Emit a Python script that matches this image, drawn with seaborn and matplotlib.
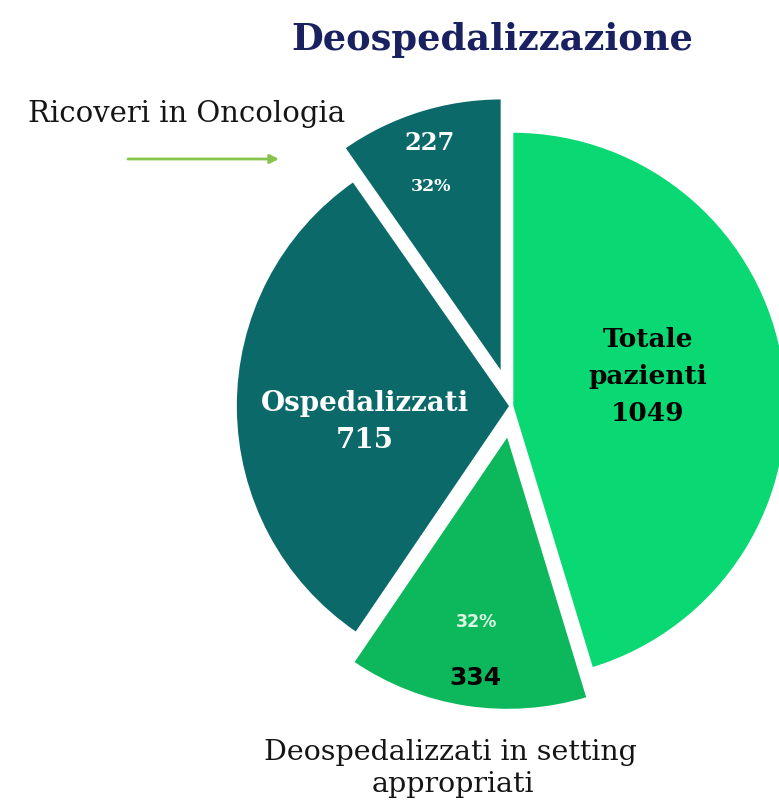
import matplotlib
matplotlib.use("Agg")
import matplotlib.pyplot as plt
import seaborn as sns

# slices, counterclockwise from the top (share of the circle, %)
fette = ["Ricoveri in Oncologia", "Ospedalizzati", "Deospedalizzati", "Totale pazienti"]
quote = [9.7, 30.8, 14.2, 45.3]
valori = [227, 715, 334, 1049]
percentuali = ["32%", "32%"]
colori = ["#0b6a69", "#0b6a69", "#0cb85b", "#0ad873"]
esplodi = [35, 2, 30, 0.5]  # pixel offsets (radius is in pixels too)

sns.set_theme(style="white")
plt.rcParams["font.family"] = ["DejaVu Serif"]

W, H = 779, 804
fig = plt.figure(figsize=(W / 100, H / 100), dpi=100)
ax = fig.add_axes([0, 0, 1, 1])


def py(y):
    # image y (top-down) -> axis y
    return H - y


ax.pie(quote, colors=colori, explode=esplodi, startangle=90, counterclock=True,
       center=(512, py(407)), radius=274,
       wedgeprops=dict(edgecolor="white", linewidth=1.2))

# pie() resets the limits, so fix them afterwards
ax.set_xlim(0, W)
ax.set_ylim(0, H)
ax.set_aspect("equal")
ax.axis("off")

# title
ax.text(492, py(50), "Deospedalizzazione", ha="center", va="baseline",
        fontsize=26.5, fontweight="bold", color="#1a2161")

# oncology callout
ax.text(187, py(122), fette[0], ha="center", va="baseline", fontsize=21,
        color="#151515")
ax.annotate("", xy=(279, py(160)), xytext=(128, py(160)),
            arrowprops=dict(arrowstyle="-|>", color="#86c44e", lw=2,
                            mutation_scale=13, shrinkA=0, shrinkB=0))

ax.text(430, py(150), str(valori[0]), ha="center", va="baseline",
        fontsize=17.5, fontweight="bold", color="white", zorder=5)
ax.text(431, py(191), percentuali[0], ha="center", va="baseline",
        fontsize=12.5, fontweight="bold", color="white", zorder=5)

ax.text(365, py(411), fette[1], ha="center", va="baseline",
        fontsize=20, fontweight="bold", color="white", zorder=5)
ax.text(365, py(448), str(valori[1]), ha="center", va="baseline",
        fontsize=20, fontweight="bold", color="white", zorder=5)

for riga, yb in zip(["Totale", "pazienti", str(valori[3])], [347, 384, 421]):
    ax.text(648, py(yb), riga, ha="center", va="baseline",
            fontsize=19, fontweight="bold", color="black", zorder=5)

ax.text(477, py(627), percentuali[1], ha="center", va="baseline",
        fontsize=12.5, fontweight="bold", color="#dcf6e2",
        family="DejaVu Sans", zorder=5)
ax.text(475, py(685), str(valori[2]), ha="center", va="baseline",
        fontsize=18, fontweight="bold", color="black",
        family="DejaVu Sans", zorder=5)

ax.text(450, py(760), "Deospedalizzati in setting", ha="center",
        va="baseline", fontsize=20.5, color="#151515")
ax.text(453, py(792), "appropriati", ha="center",
        va="baseline", fontsize=20.5, color="#151515")

fig.savefig("out.png", dpi=100)
